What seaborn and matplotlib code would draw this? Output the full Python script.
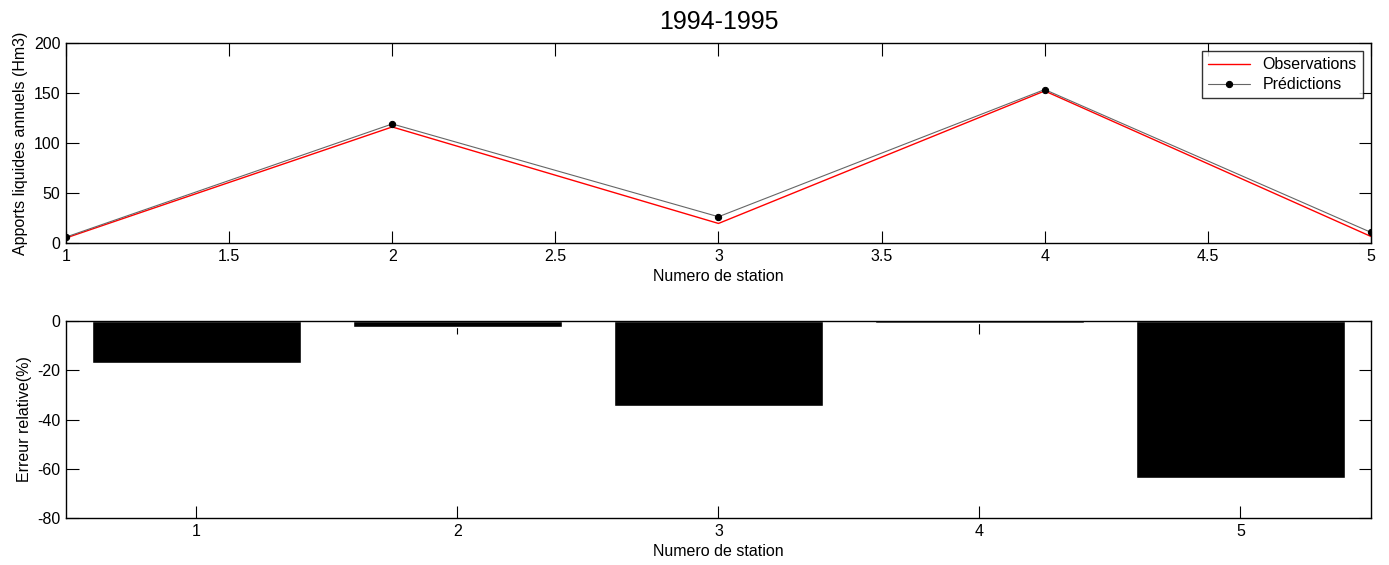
import numpy as np
import pandas as pd
import matplotlib
matplotlib.use("Agg")
import matplotlib.pyplot as plt
import seaborn as sns

# values
stations = [1, 2, 3, 4, 5]
observations = [5.0, 116.0, 19.5, 152.0, 6.5]
predictions = [5.9, 119.0, 26.2, 153.4, 10.6]
rel_error = [-17.0, -2.5, -34.5, -1.0, -63.8]

sns.set_theme(style="white")
plt.rcParams["font.family"] = ["Liberation Sans", "DejaVu Sans"]
plt.rcParams["axes.unicode_minus"] = False
plt.rcParams["text.color"] = "black"
plt.rcParams["axes.labelcolor"] = "black"

FS = 11.5

df_lines = pd.DataFrame({"station": stations,
                         "obs": observations,
                         "pred": predictions})
df_err = pd.DataFrame({"station": stations, "err": rel_error})

fig = plt.figure(figsize=(13.89, 5.65), dpi=100)
ax1 = fig.add_axes([0.0475, 0.570, 0.9395, 0.354])
ax2 = fig.add_axes([0.0475, 0.083, 0.9395, 0.349])

# ---------------------------------------------------------
# top panel: observations vs predictions
# ---------------------------------------------------------
sns.lineplot(data=df_lines, x="station", y="obs", ax=ax1, color="red",
             linewidth=1.0, label="Observations")
sns.lineplot(data=df_lines, x="station", y="pred", ax=ax1, color="#666666",
             linewidth=0.8, marker="o", markersize=4.5,
             markerfacecolor="black", markeredgecolor="black",
             label="Prédictions")
ax1.set_xlim(1, 5)
ax1.set_ylim(0, 200)
ax1.set_xticks(np.arange(1, 5.01, 0.5))
ax1.set_xticklabels(["1", "1.5", "2", "2.5", "3", "3.5", "4", "4.5", "5"])
ax1.set_yticks([0, 50, 100, 150, 200])
ax1.set_xlabel("Numero de station", fontsize=FS)
ax1.set_ylabel("Apports liquides annuels (Hm3)", fontsize=FS)
ax1.set_title("1994-1995", fontsize=18, pad=10)
leg = ax1.legend(loc="upper right", fontsize=FS, frameon=True, fancybox=False,
                 edgecolor="black", borderaxespad=0.5, handlelength=2.6,
                 labelspacing=0.3)
leg.get_frame().set_linewidth(1.0)

# ---------------------------------------------------------
# bottom panel: relative error
# ---------------------------------------------------------
sns.barplot(data=df_err, x="station", y="err", ax=ax2, color="black",
            width=0.8, saturation=1, native_scale=True)
ax2.set_xlim(0.5, 5.5)
ax2.set_ylim(-80, 0)
ax2.set_xticks(stations)
ax2.set_yticks([0, -20, -40, -60, -80])
ax2.set_xlabel("Numero de station", fontsize=FS)
ax2.set_ylabel("Erreur relative(%)", fontsize=FS)

for ax in (ax1, ax2):
    for s in ax.spines.values():
        s.set_visible(True)
        s.set_color("black")
        s.set_linewidth(1.0)
    ax.tick_params(direction="in", length=9, width=0.8, colors="black",
                   top=True, right=True, bottom=True, left=True,
                   labelsize=FS, pad=4)

fig.savefig("out.png", dpi=100)
